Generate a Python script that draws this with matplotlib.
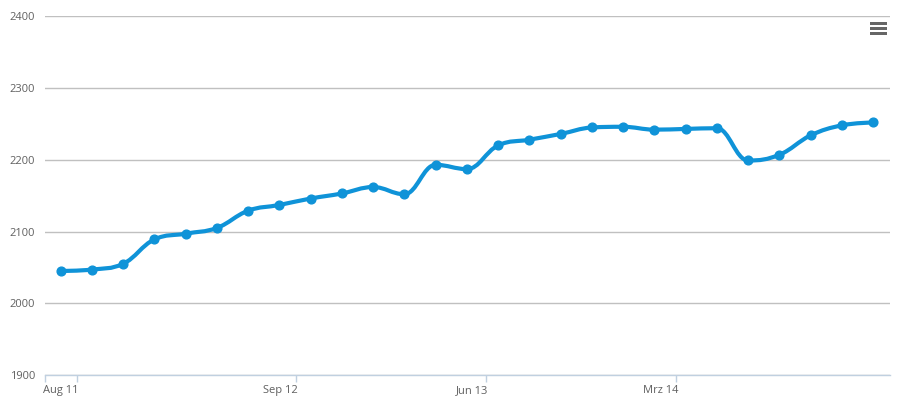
import matplotlib
matplotlib.use("Agg")
import matplotlib.pyplot as plt
from matplotlib.path import Path
from matplotlib.patches import PathPatch, Rectangle
import numpy as np

values = [2045, 2047, 2055, 2089, 2097, 2105, 2129, 2137, 2146, 2153, 2162, 2152,
          2193, 2187, 2220, 2228, 2236, 2245, 2246, 2242, 2243, 2244, 2199, 2207,
          2234, 2248, 2252]
tick_pos = [0.51, 7.53, 13.61, 19.70]
tick_labels = ['Aug 11', 'Sep 12', 'Jun 13', 'Mrz 14']
y_ticks = [1900, 2000, 2100, 2200, 2300, 2400]

line_color = '#0f93d8'
plt.rcParams['font.family'] = ['Open Sans', 'DejaVu Sans']


def spline_path(xs, ys, smoothing=1.5):
    # highcharts-like spline control points
    n = len(xs)
    verts = [(xs[0], ys[0])]
    codes = [Path.MOVETO]
    right = [None] * n
    left = [None] * n
    for i in range(1, n - 1):
        x, y = xs[i], ys[i]
        px, py = xs[i - 1], ys[i - 1]
        nx, ny = xs[i + 1], ys[i + 1]
        d = smoothing + 1
        lcx = (smoothing * x + px) / d
        lcy = (smoothing * y + py) / d
        rcx = (smoothing * x + nx) / d
        rcy = (smoothing * y + ny) / d
        if rcx != lcx:
            corr = (rcy - lcy) * (rcx - x) / (rcx - lcx) + y - rcy
            lcy += corr
            rcy += corr
        if lcy > max(py, y):
            lcy = max(py, y)
            rcy = 2 * y - lcy
        elif lcy < min(py, y):
            lcy = min(py, y)
            rcy = 2 * y - lcy
        if rcy > max(y, ny):
            rcy = max(y, ny)
            lcy = 2 * y - rcy
        elif rcy < min(y, ny):
            rcy = min(y, ny)
            lcy = 2 * y - rcy
        left[i] = (lcx, lcy)
        right[i] = (rcx, rcy)
    for i in range(1, n):
        c1 = right[i - 1] if right[i - 1] else (xs[i - 1], ys[i - 1])
        c2 = left[i] if left[i] else (xs[i], ys[i])
        verts += [c1, c2, (xs[i], ys[i])]
        codes += [Path.CURVE4] * 3
    return Path(verts, codes)


fig = plt.figure(figsize=(9.02, 3.97), dpi=100)
ax = fig.add_axes([45 / 902, 22 / 397, 845 / 902, 358.7 / 397])

xs = np.arange(len(values))
ax.add_patch(PathPatch(spline_path(list(xs), values), fill=False,
                       edgecolor=line_color, lw=3, capstyle='round',
                       joinstyle='round', zorder=3))
ax.plot(xs, values, 'o', color=line_color, ms=6.3, zorder=4)

ax.set_xlim(-0.5, 26.54)
ax.set_ylim(1900, 2400)
ax.set_yticks(y_ticks)
ax.grid(axis='y', color='#c0c0c0', lw=1)
ax.set_axisbelow(True)

ax.set_xticks(tick_pos)
ax.set_xticklabels(tick_labels, ha='right')
for lbl in ax.get_xticklabels():
    lbl.set_x(0)
ax.set_xticks([-0.5], minor=True)
ax.tick_params(axis='x', which='both', length=5, color='#c0d0e0', width=1,
               labelsize=8, labelcolor='#606060', pad=2)
ax.tick_params(axis='y', length=0, labelsize=8, labelcolor='#606060', pad=7)

for s in ['top', 'right', 'left']:
    ax.spines[s].set_visible(False)
ax.spines['bottom'].set_color('#c0d0e0')
ax.spines['bottom'].set_linewidth(1)

# shift x labels so their right edge sits at the tick
import matplotlib.transforms as mtrans
offset = mtrans.ScaledTranslation(2 / 100, 0, fig.dpi_scale_trans)
for lbl in ax.get_xticklabels():
    lbl.set_transform(lbl.get_transform() + offset)

# menu icon
for yy in [23.3, 28.3, 33.3]:
    fig.add_artist(Rectangle((870 / 902, 1 - (yy + 1.3) / 397), 17 / 902, 2.6 / 397,
                             transform=fig.transFigure, color='#666666', lw=0))

fig.savefig('out.png', dpi=100)
